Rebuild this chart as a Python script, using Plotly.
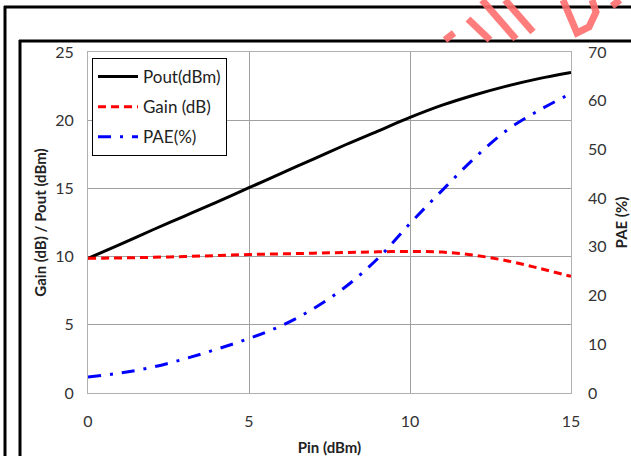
import plotly.graph_objects as go

# ---------------- data ----------------
pin = [0, 1, 2, 3, 4, 5, 6, 7, 8, 9, 10, 11, 12, 13, 14, 15]
pout = [9.87, 10.9, 11.95, 12.97, 14.0, 15.05, 16.1, 17.15, 18.2, 19.2, 20.2, 21.1, 21.85, 22.5, 23.05, 23.5]
gain = [9.87, 9.9, 9.95, 10.0, 10.08, 10.15, 10.2, 10.25, 10.3, 10.35, 10.38, 10.33, 10.1, 9.7, 9.15, 8.55]
pae = [3.3, 4.1, 5.3, 7.0, 9.0, 11.2, 13.8, 17.3, 21.8, 27.6, 34.8, 41.6, 48.2, 53.9, 58.0, 61.5]

x_ticks = [0, 5, 10, 15]
y1_ticks = [0, 5, 10, 15, 20, 25]
y2_ticks = [0, 10, 20, 30, 40, 50, 60, 70]

FONT = "Lato, 'Open Sans', sans-serif"
W, H = 631, 456
ML, MR, MT, MB = 88, 60, 52, 63
PW, PH = W - ML - MR, H - MT - MB


def px(x):
    return (x - ML) / PW


def py(y):
    return (H - MB - y) / PH


fig = go.Figure()
fig.add_trace(go.Scatter(x=pin, y=pout, name="Pout(dBm)", mode="lines",
                         line=dict(color="#000000", width=3, shape="spline"),
                         legendgroup="a"))
fig.add_trace(go.Scatter(x=pin, y=gain, name="Gain (dB)", mode="lines",
                         line=dict(color="#ff0000", width=3, dash="8px,5px", shape="spline"),
                         legendgroup="b"))
fig.add_trace(go.Scatter(x=pin, y=pae, name="PAE(%)", mode="lines", yaxis="y2",
                         line=dict(color="#0000ff", width=3, dash="13px,9px,3px,9px", shape="spline"),
                         legendgroup="c"))

grid = "#a0a0a0"
tfont = dict(family=FONT, size=15, color="#222222")
fig.update_layout(
    width=W, height=H,
    margin=dict(l=ML, r=MR, t=MT, b=MB, autoexpand=False),
    paper_bgcolor="white", plot_bgcolor="white",
    font=dict(family=FONT, size=16, color="#333333"),
    showlegend=True,
    legend=dict(x=px(92), y=py(58), xanchor="left", yanchor="top",
                bgcolor="white", bordercolor="black", borderwidth=1,
                font=dict(family=FONT, size=17, color="#222222"),
                tracegroupgap=5, itemwidth=40),
    xaxis=dict(range=[0, 15], tickvals=x_ticks, showgrid=True, gridcolor=grid, gridwidth=1,
               zeroline=False, showline=True, linecolor="#b0b0b0", linewidth=1, mirror=True,
               ticks="", ticklabelstandoff=14, automargin=False,
               title=dict(text="<b>Pin (dBm)</b>", font=tfont, standoff=14)),
    yaxis=dict(range=[0, 25], tickvals=y1_ticks, showgrid=True, gridcolor=grid, gridwidth=1,
               zeroline=False, showline=True, linecolor="#b0b0b0", linewidth=1, mirror=True,
               ticks="", ticklabelstandoff=10, automargin=False,
               title=dict(text="<b>Gain (dB) / Pout (dBm)</b>", font=tfont, standoff=4)),
    yaxis2=dict(range=[0, 70], tickvals=y2_ticks, overlaying="y", side="right", showgrid=False,
                zeroline=False, showline=False, ticks="", ticklabelstandoff=16, automargin=False,
                title=dict(text="<b>PAE (%)</b>", font=tfont, standoff=10)),
)

# frames
frame = dict(color="black", width=3)
shapes = [
    dict(type="line", xref="paper", yref="paper", x0=px(4), x1=px(640), y0=py(7), y1=py(7), line=frame),
    dict(type="line", xref="paper", yref="paper", x0=px(5), x1=px(5), y0=py(6), y1=py(470), line=frame),
    dict(type="line", xref="paper", yref="paper", x0=px(19), x1=px(640), y0=py(41), y1=py(41), line=frame),
    dict(type="line", xref="paper", yref="paper", x0=px(20), x1=px(20), y0=py(40), y1=py(470), line=frame),
]

# watermark strokes (decorative)
wm = dict(color="rgba(255,110,110,0.9)", width=7)
strokes = [
    [(445, 40), (454, 33)],
    [(468, 19), (490, 40)],
    [(482, 0), (516, 39)],
    [(505, 0), (533, 32)],
    [(563, 0), (577, 33), (589, 27), (596, 12), (592, 0)],
    [(612, 6), (620, 0)],
]
for s in strokes:
    path = "M " + " L ".join(f"{px(a):.4f},{py(b):.4f}" for a, b in s)
    shapes.append(dict(type="path", xref="paper", yref="paper", path=path, line=wm))
fig.update_layout(shapes=shapes)

fig.write_html("out.html", config={"displayModeBar": False},
               post_script="document.body.style.margin='0';document.body.style.overflow='hidden';")
